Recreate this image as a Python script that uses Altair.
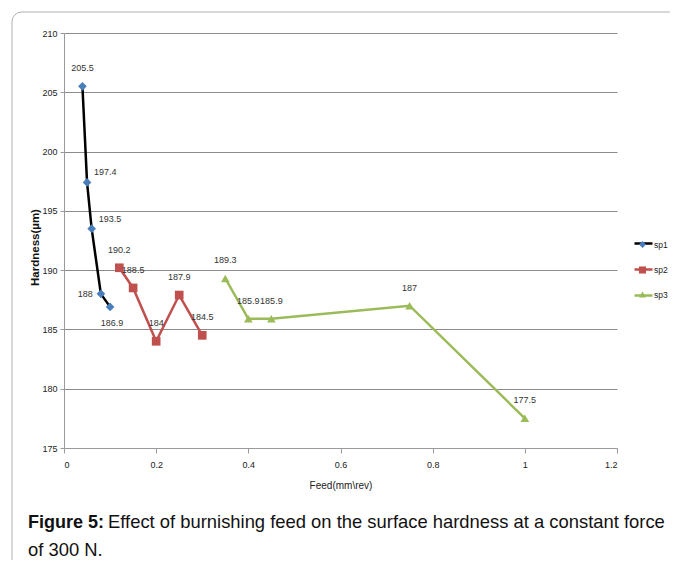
import altair as alt
import pandas as pd

# ---------------- data ----------------
series_names = ["sp1", "sp2", "sp3"]

feed_sp1 = [0.04, 0.05, 0.06, 0.08, 0.10]
hard_sp1 = [205.5, 197.4, 193.5, 188.0, 186.9]
pos_sp1 = ["above", "right", "right", "left", "below"]

feed_sp2 = [0.12, 0.15, 0.20, 0.25, 0.30]
hard_sp2 = [190.2, 188.5, 184.0, 187.9, 184.5]
pos_sp2 = ["above", "above", "above", "above", "above"]

feed_sp3 = [0.35, 0.40, 0.45, 0.75, 1.00]
hard_sp3 = [189.3, 185.9, 185.9, 187.0, 177.5]
pos_sp3 = ["above", "above", "above", "above", "above"]

x_ticks = [0, 0.2, 0.4, 0.6, 0.8, 1.0, 1.2]
y_ticks = [175, 180, 185, 190, 195, 200, 205, 210]

x_title = "Feed(mm\\rev)"
y_title = "Hardness(\u00b5m)"
caption_bold = ["Figure 5:"]
caption_line1 = ["Effect of burnishing feed on the surface hardness at a constant force"]
caption_line2 = ["of 300 N."]

line_colors = ["#000000", "#C0504D", "#9BBB59"]
marker_colors = ["#4A7EBB", "#C0504D", "#9BBB59"]
marker_shapes = ["diamond", "square", "triangle-up"]

# ---------------- table ----------------
rows = []
for name, fx, hy, ps in [("sp1", feed_sp1, hard_sp1, pos_sp1),
                         ("sp2", feed_sp2, hard_sp2, pos_sp2),
                         ("sp3", feed_sp3, hard_sp3, pos_sp3)]:
    for f, h, p in zip(fx, hy, ps):
        rows.append({"series": name, "feed": f, "hardness": h,
                     "label": f"{h:g}", "pos": p})
df = pd.DataFrame(rows)

NARROW = "Liberation Sans, Arial, sans-serif"
SANS = "Liberation Sans, Arial, sans-serif"

x_enc = alt.X("feed:Q",
              scale=alt.Scale(domain=[0, 1.2], nice=False, zero=False),
              axis=alt.Axis(values=x_ticks, format="~g", title=x_title, grid=False,
                            domainColor="#9a9a9a", tickColor="#9a9a9a", tickSize=5,
                            labelPadding=7, labelFont=NARROW, labelFontSize=9,
                            labelColor="#222", titleFont=NARROW, titleFontSize=10,
                            titleFontWeight="normal", titleColor="#222", titlePadding=11))
y_enc = alt.Y("hardness:Q",
              scale=alt.Scale(domain=[175, 210], nice=False, zero=False),
              axis=alt.Axis(values=y_ticks, title=y_title, grid=True,
                            gridColor="#8c8c8c", gridWidth=1,
                            domainColor="#9a9a9a", tickColor="#9a9a9a", tickSize=4,
                            labelPadding=3, labelFont=NARROW, labelFontSize=9,
                            labelColor="#222", titleFont=SANS, titleFontSize=11.5,
                            titleFontWeight="bold", titleColor="#111",
                            titleAngle=270, titleX=-29, titleY=214,
                            titleAlign="center", titleBaseline="middle"))

base = alt.Chart(df)

frame = alt.Chart(pd.DataFrame({"a": [0]})).mark_rect(
    fill="white", fillOpacity=0, stroke="#b0b0b0", strokeWidth=1, cornerRadius=10
).encode(x=alt.value(-52), x2=alt.value(700), y=alt.value(-21), y2=alt.value(545))

leg_line = alt.Legend(orient="none", legendX=569, legendY=200, title=None,
                      symbolType="stroke", symbolSize=324, symbolStrokeWidth=2.5,
                      labelExpr="''", labelFontSize=8.5, padding=0,
                      rowPadding=10)
leg_mark = alt.Legend(orient="none", legendX=574, legendY=207, title=None,
                      symbolSize=50, labelFont=NARROW, labelFontSize=8.5,
                      labelColor="#222", labelOffset=7, padding=0, rowPadding=10.5,
                      symbolOpacity=1)

lines = base.mark_line(strokeWidth=2.5).encode(
    x=x_enc, y=y_enc,
    stroke=alt.Stroke("series:N", scale=alt.Scale(range=line_colors), legend=leg_line),
)

points = base.mark_point(filled=True, size=75, opacity=1).encode(
    x=x_enc, y=y_enc,
    color=alt.Color("series:N", scale=alt.Scale(domain=series_names, range=marker_colors),
                    legend=leg_mark),
    shape=alt.Shape("series:N", scale=alt.Scale(domain=series_names, range=marker_shapes),
                    legend=leg_mark),
)

def lbl(pos, **kw):
    return base.transform_filter(alt.datum.pos == pos).mark_text(
        font=NARROW, fontSize=9, color="#333", **kw
    ).encode(x=x_enc, y=y_enc, text="label:N")

labels = [
    lbl("above", dy=-18, align="center", baseline="middle"),
    lbl("right", dx=7, dy=-10, align="left", baseline="middle"),
    lbl("left", dx=-8, dy=0, align="right", baseline="middle"),
    lbl("below", dx=2, dy=16, align="center", baseline="middle"),
]

cap_b = alt.Chart(pd.DataFrame({"t": caption_bold})).mark_text(
    align="left", baseline="alphabetic", font=SANS, fontSize=18, fontWeight="bold",
    color="#111").encode(text="t:N", x=alt.value(-36), y=alt.value(495))
cap_1 = alt.Chart(pd.DataFrame({"t": caption_line1})).mark_text(
    align="left", baseline="alphabetic", font=SANS, fontSize=18.4,
    color="#111").encode(text="t:N", x=alt.value(44), y=alt.value(495))
cap_2 = alt.Chart(pd.DataFrame({"t": caption_line2})).mark_text(
    align="left", baseline="alphabetic", font=SANS, fontSize=18.4,
    color="#111").encode(text="t:N", x=alt.value(-36), y=alt.value(523))

chart = alt.layer(frame, lines, points, *labels, cap_b, cap_1, cap_2).properties(
    width=553, height=415,
    autosize=alt.AutoSizeParams(type="none"),
    padding={"left": 56, "top": 25, "right": 53, "bottom": 112},
    background="white",
).configure_view(stroke=None)

chart.save("out.html", embed_options={"renderer": "svg", "actions": False})
